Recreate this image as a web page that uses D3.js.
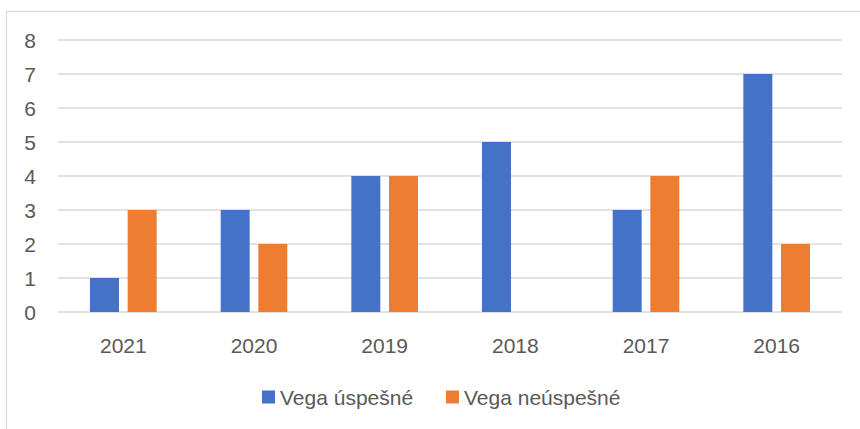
<!DOCTYPE html>
<html>
<head>
<meta charset="utf-8">
<script src="https://cdn.jsdelivr.net/npm/d3@7"></script>
<style>
  body { margin: 0; background: #fff; }
  svg text { font-family: "Liberation Sans", Arial, sans-serif; fill: #595959; }
</style>
</head>
<body>
<svg width="860" height="429"></svg>
<script>
const years = ["2021", "2020", "2019", "2018", "2017", "2016"];
const seriesNames = ["Vega úspešné", "Vega neúspešné"];
const uspesne = [1, 3, 4, 5, 3, 7];
const neuspesne = [3, 2, 4, 0, 4, 2];
const yTicks = [0, 1, 2, 3, 4, 5, 6, 7, 8];
const colors = ["#4472C4", "#ED7D31"];

const svg = d3.select("svg");

// chart frame
svg.append("rect")
  .attr("x", 6.5).attr("y", 11.5)
  .attr("width", 900).attr("height", 500)
  .attr("fill", "none").attr("stroke", "#d9d9d9").attr("stroke-width", 1.2);

const plotLeft = 58, plotRight = 842, plotTop = 40, plotBottom = 312;

const x = d3.scaleBand().domain(years).range([plotLeft, plotRight]);
const xInner = d3.scaleBand().domain(seriesNames).range([0, x.bandwidth()])
  .paddingInner(0.23).paddingOuter(0.85);
const y = d3.scaleLinear().domain([0, 8]).range([plotBottom, plotTop]);

// gridlines
svg.append("g").selectAll("line")
  .data(yTicks)
  .join("line")
  .attr("x1", plotLeft).attr("x2", plotRight)
  .attr("y1", d => y(d)).attr("y2", d => y(d))
  .attr("stroke", "#d9d9d9").attr("stroke-width", 1.5);

// y labels
svg.append("g").selectAll("text")
  .data(yTicks)
  .join("text")
  .attr("x", 30).attr("y", d => y(d))
  .attr("dy", "0.36em")
  .attr("text-anchor", "middle")
  .style("font-size", "21px")
  .text(d => d);

const rows = years.map((yr, i) => ({ yr, vals: [uspesne[i], neuspesne[i]] }));

const groups = svg.append("g").selectAll("g")
  .data(rows)
  .join("g")
  .attr("transform", d => `translate(${x(d.yr)},0)`);

groups.selectAll("rect")
  .data(d => d.vals.map((v, j) => ({ name: seriesNames[j], v, j })))
  .join("rect")
  .attr("x", d => xInner(d.name))
  .attr("width", xInner.bandwidth())
  .attr("y", d => y(d.v))
  .attr("height", d => y(0) - y(d.v))
  .attr("fill", d => colors[d.j]);

// x labels
svg.append("g").selectAll("text")
  .data(years)
  .join("text")
  .attr("x", d => x(d) + x.bandwidth() / 2)
  .attr("y", 345).attr("dy", "0.36em")
  .attr("text-anchor", "middle")
  .style("font-size", "21px")
  .text(d => d);

// legend
const legendX = [262, 446];
const legend = svg.append("g").selectAll("g")
  .data(seriesNames)
  .join("g")
  .attr("transform", (d, i) => `translate(${legendX[i]},397)`);

legend.append("rect")
  .attr("x", 0).attr("y", -6.5)
  .attr("width", 13).attr("height", 13)
  .attr("fill", (d, i) => colors[i]);

legend.append("text")
  .attr("x", 18).attr("dy", "0.36em")
  .style("font-size", "21px")
  .text(d => d);
</script>
</body>
</html>
